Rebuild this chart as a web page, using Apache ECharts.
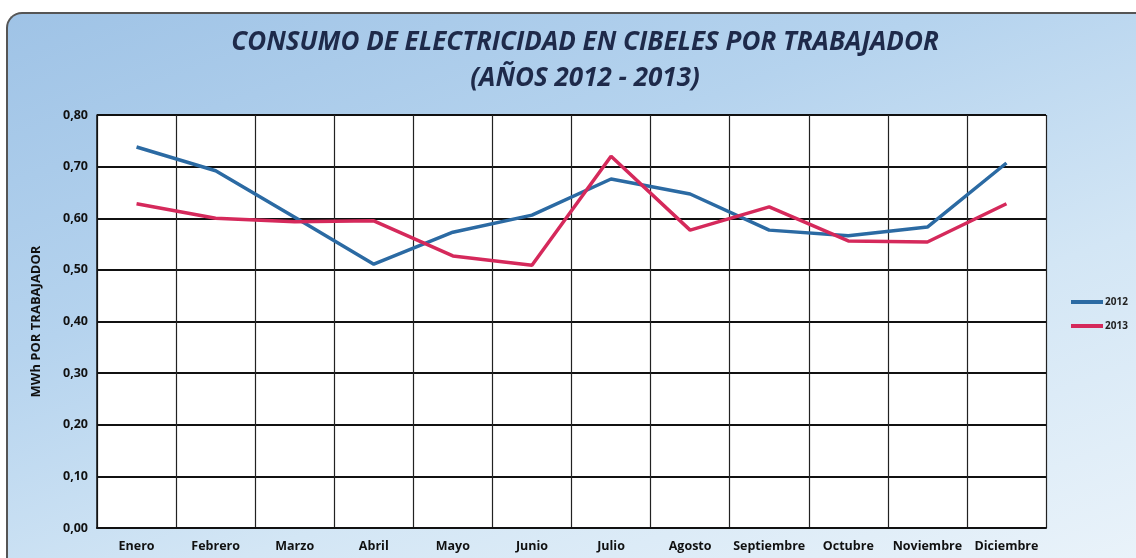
<!DOCTYPE html>
<html>
<head>
<meta charset="utf-8">
<script src="https://cdn.jsdelivr.net/npm/echarts@6/dist/echarts.min.js"></script>
<style>
  html, body { margin: 0; padding: 0; background: #fff; }
  #wrap {
    position: absolute; left: 6px; top: 12px; width: 1140px; height: 552px;
    border-left: 2px solid #555; border-top: 2px solid #555;
    border-top-left-radius: 16px;
    background: linear-gradient(160deg, #9fc3e6 0%, #b5d3ee 35%, #d3e6f5 65%, #eaf3fa 100%);
    overflow: hidden;
  }
  #chart { position: absolute; left: -6px; top: -12px; width: 1136px; height: 558px; }
</style>
</head>
<body>
<div id="wrap"><div id="chart"></div></div>
<script>
// meses
var months = ['Enero', 'Febrero', 'Marzo', 'Abril', 'Mayo', 'Junio', 'Julio',
  'Agosto', 'Septiembre', 'Octubre', 'Noviembre', 'Diciembre'];
// MWh por trabajador
var data2012 = [0.738, 0.692, 0.602, 0.511, 0.573, 0.606, 0.676, 0.647, 0.577, 0.566, 0.583, 0.707];
var data2013 = [0.628, 0.600, 0.593, 0.595, 0.527, 0.509, 0.720, 0.577, 0.622, 0.556, 0.554, 0.628];

var chart = echarts.init(document.getElementById('chart'));
var option = {
  animation: false,
  backgroundColor: 'transparent',
  title: {
    text: 'CONSUMO DE ELECTRICIDAD EN CIBELES POR TRABAJADOR\n(AÑOS 2012 - 2013)',
    left: 578,
    top: 18,
    textAlign: 'center',
    textStyle: {
      fontFamily: 'Open Sans',
      fontStyle: 'italic',
      fontWeight: 'bold',
      fontSize: 26,
      lineHeight: 36,
      color: '#1e2a4a',
      letterSpacing: -1.2
    }
  },
  legend: {
    orient: 'vertical',
    left: 1064,
    top: 290,
    itemGap: 14,
    itemWidth: 32,
    itemHeight: 4,
    icon: 'rect',
    data: ['2012', '2013'],
    textStyle: { fontFamily: 'Open Sans', fontWeight: 'bold', fontSize: 10, color: '#222', padding: [0, 0, 0, -3] }
  },
  grid: { left: 95, right: 92, top: 113, bottom: 32, containLabel: false, show: true, backgroundColor: '#fff', borderWidth: 0 },
  xAxis: {
    type: 'category',
    data: months,
    boundaryGap: true,
    axisLine: { show: true, lineStyle: { color: '#111', width: 2 } },
    axisTick: { show: false },
    splitLine: { show: true, lineStyle: { color: '#222', width: 1.2 } },
    axisLabel: { fontFamily: 'Open Sans', fontWeight: 'bold', fontSize: 12.5, color: '#111', margin: 12, interval: 0 }
  },
  yAxis: {
    type: 'value',
    min: 0, max: 0.8, interval: 0.1,
    name: 'MWh POR TRABAJADOR',
    nameLocation: 'middle',
    nameGap: 54,
    nameTextStyle: { fontFamily: 'Open Sans', fontWeight: 'bold', fontSize: 13, color: '#111' },
    axisLine: { show: true, lineStyle: { color: '#111', width: 1.5 } },
    axisTick: { show: false },
    splitLine: { show: true, lineStyle: { color: '#111', width: 2 } },
    axisLabel: {
      fontFamily: 'Open Sans', fontWeight: 'bold', fontSize: 12.5, color: '#111', margin: 9,
      formatter: function (v) { return v.toFixed(2).replace('.', ','); }
    }
  },
  series: [
    {
      name: '2012', type: 'line', data: data2012,
      symbol: 'none', lineStyle: { color: '#2b6aa3', width: 3.5 }, itemStyle: { color: '#2b6aa3' }
    },
    {
      name: '2013', type: 'line', data: data2013,
      symbol: 'none', lineStyle: { color: '#d5295b', width: 3.5 }, itemStyle: { color: '#d5295b' }
    }
  ]
};
chart.setOption(option);
</script>
</body>
</html>
